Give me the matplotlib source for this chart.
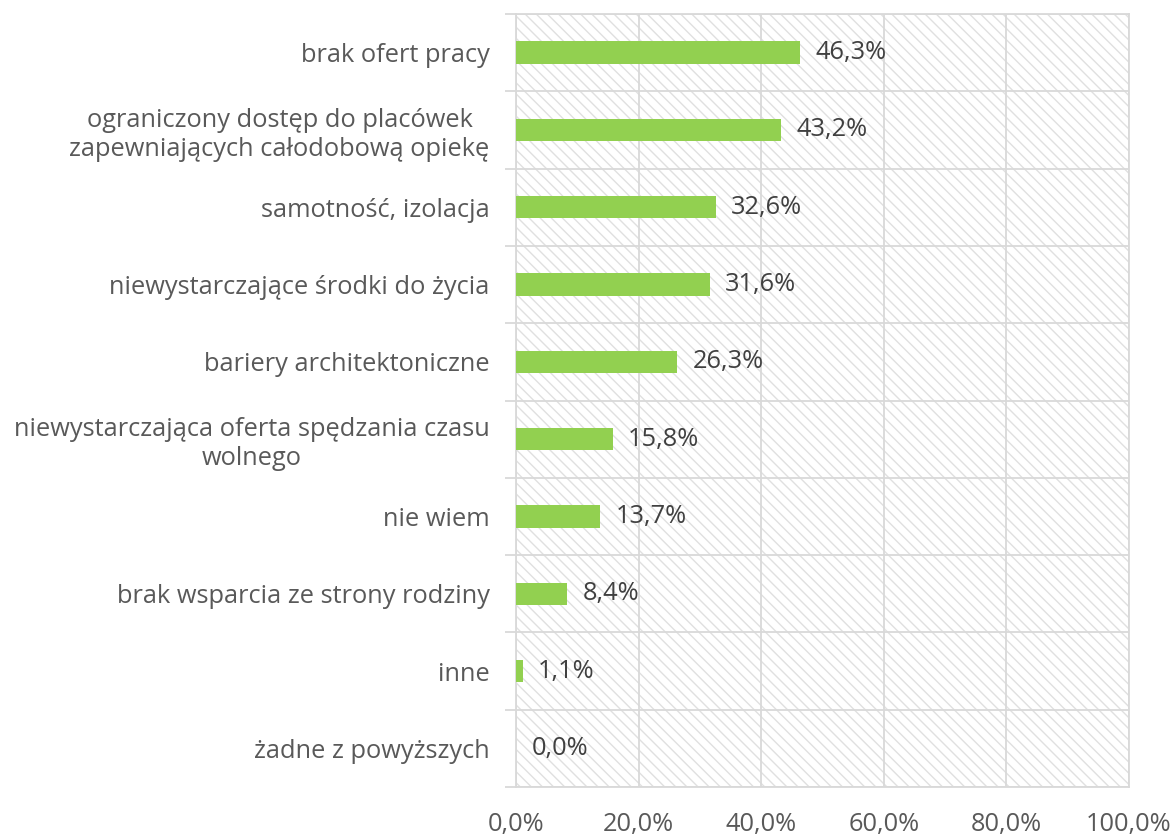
import numpy as np
import matplotlib.pyplot as plt
from matplotlib.patches import Rectangle
from matplotlib.ticker import FixedLocator

plt.rcParams['font.family'] = ['Open Sans', 'DejaVu Sans']

# dane
kategorie = [
    'brak ofert pracy',
    'ograniczony dostęp do placówek\nzapewniających całodobową opiekę',
    'samotność, izolacja',
    'niewystarczające środki do życia',
    'bariery architektoniczne',
    'niewystarczająca oferta spędzania czasu\nwolnego',
    'nie wiem',
    'brak wsparcia ze strony rodziny',
    'inne',
    'żadne z powyższych',
]
wartosci = [46.3, 43.2, 32.6, 31.6, 26.3, 15.8, 13.7, 8.4, 1.1, 0.0]
xticks = [0, 20, 40, 60, 80, 100]

tekst = '#595959'
tekst_wart = '#404040'
siatka = '#d9d9d9'
zielony = '#92d050'
rozmiar = 18.3

fig = plt.figure(figsize=(11.76, 8.36), dpi=100)
ax = fig.add_axes([516 / 1176, 1 - 787 / 836, (1129 - 516) / 1176, (787 - 14) / 836])

# tło z kreskowaniem
plt.rcParams['hatch.color'] = '#e0e0e0'
plt.rcParams['hatch.linewidth'] = 1.0
ax.add_patch(Rectangle((0, 0), 1, 1, transform=ax.transAxes, facecolor='white',
                       edgecolor='#e0e0e0', hatch='\\\\\\', linewidth=0, zorder=0))

y = np.arange(len(kategorie))
ax.barh(y, wartosci, height=0.29, color=zielony, zorder=3)
for yi, v in zip(y, wartosci):
    ax.annotate(f'{v:.1f}%'.replace('.', ','), (v, yi), xytext=(11, 0),
                textcoords='offset points', va='center', ha='left',
                fontsize=rozmiar, color=tekst_wart, zorder=4)

ax.set_xlim(0, 100)
ax.set_ylim(len(kategorie) - 0.5, -0.5)
ax.set_xticks(xticks)
ax.set_xticklabels([f'{t:.1f}%'.replace('.', ',') for t in xticks])
ax.set_yticks(y)
ax.set_yticklabels(kategorie)
for lab in ax.get_yticklabels():
    lab.set_multialignment('center')

ax.yaxis.set_minor_locator(FixedLocator(np.arange(-0.5, len(kategorie), 1)))
ax.tick_params(axis='y', which='major', length=0, pad=19, labelsize=rozmiar, labelcolor=tekst)
ax.tick_params(axis='y', which='minor', length=8, color=siatka, width=1.3)
ax.tick_params(axis='x', length=0, pad=18, labelsize=rozmiar, labelcolor=tekst)
ax.grid(axis='x', which='major', color=siatka, linewidth=1.3, zorder=1)
ax.grid(axis='y', which='minor', color=siatka, linewidth=1.3, zorder=1)
ax.set_axisbelow(True)
for s in ax.spines.values():
    s.set_color(siatka)
    s.set_linewidth(1.3)

fig.savefig('out.png', dpi=100)
